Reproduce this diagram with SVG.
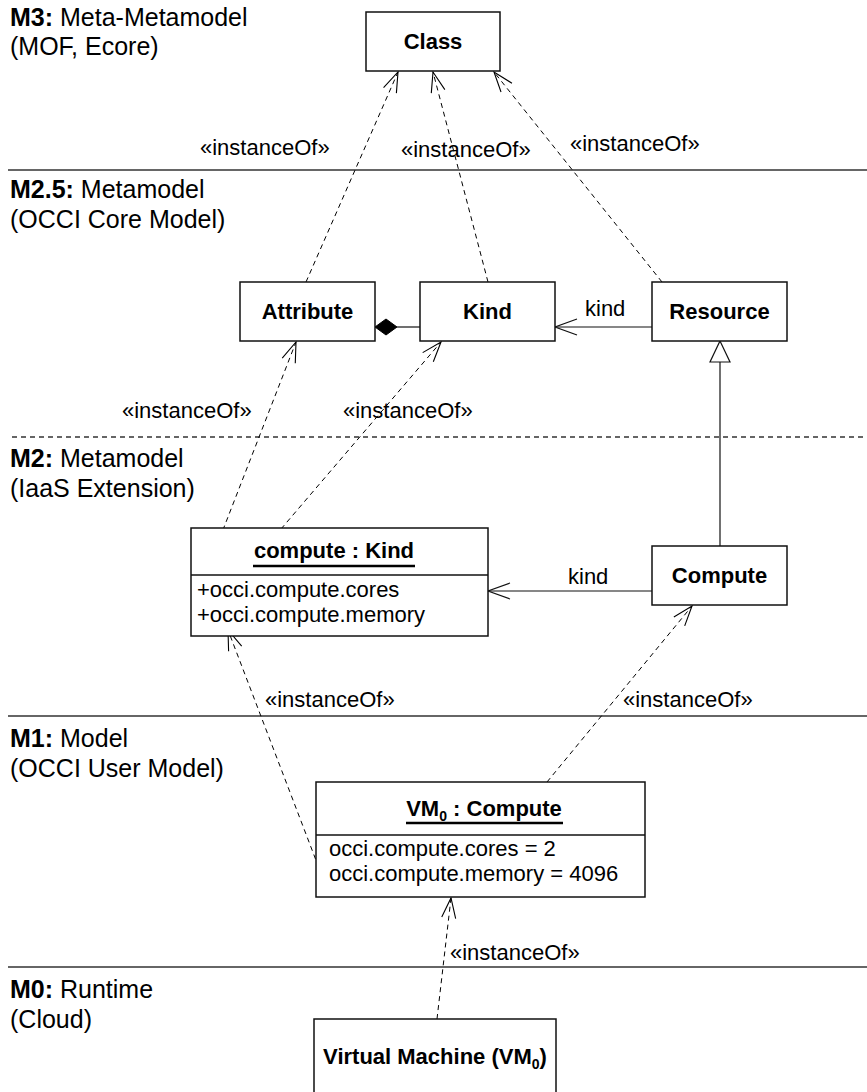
<svg xmlns="http://www.w3.org/2000/svg" width="867" height="1092" viewBox="0 0 867 1092">
  <style>
    text { font-family: "Liberation Sans", Arial, Helvetica, sans-serif; font-size: 22px; fill: #000; }
    .b { font-weight: bold; }
    .cap { font-size: 25px; }
    .box { fill: #fff; stroke: #111; stroke-width: 1.5; }
    .sep { stroke: #333; stroke-width: 1.3; fill: none; }
    .sepd { stroke: #333; stroke-width: 1.3; fill: none; stroke-dasharray: 5 4; }
    .inst { stroke: #000; stroke-width: 1; fill: none; stroke-dasharray: 5 4; marker-end: url(#open); }
    .assoc { stroke: #111; stroke-width: 1.2; fill: none; marker-end: url(#openBig); }
    .ul { stroke: #000; stroke-width: 2.6; }
  </style>
  <defs>
    <marker id="open" viewBox="0 0 24 18" refX="22" refY="9" markerWidth="24" markerHeight="18" orient="auto" markerUnits="userSpaceOnUse">
      <path d="M2,2 L22,9 L2,16" fill="none" stroke="#000" stroke-width="1.1" stroke-dasharray="none"/>
    </marker>
    <marker id="openBig" viewBox="0 0 26 20" refX="24" refY="10" markerWidth="26" markerHeight="20" orient="auto" markerUnits="userSpaceOnUse">
      <path d="M2,2 L24,10 L2,18" fill="none" stroke="#111" stroke-width="1.2"/>
    </marker>
  </defs>

  <!-- layer separators -->
  <g id="layers">
    <line class="sep" x1="8" y1="170" x2="867" y2="170"/>
    <line class="sepd" x1="12" y1="437" x2="867" y2="437"/>
    <line class="sep" x1="8" y1="716" x2="867" y2="716"/>
    <line class="sep" x1="8" y1="967" x2="867" y2="967"/>
  </g>

  <!-- layer captions -->
  <g id="captions">
    <text class="cap" x="10" y="26"><tspan class="b">M3:</tspan> Meta-Metamodel</text>
    <text class="cap" x="10" y="55">(MOF, Ecore)</text>
    <text class="cap" x="10" y="198"><tspan class="b">M2.5:</tspan> Metamodel</text>
    <text class="cap" x="10" y="228">(OCCI Core Model)</text>
    <text class="cap" x="10" y="467"><tspan class="b">M2:</tspan> Metamodel</text>
    <text class="cap" x="10" y="497">(IaaS Extension)</text>
    <text class="cap" x="10" y="747"><tspan class="b">M1:</tspan> Model</text>
    <text class="cap" x="10" y="777">(OCCI User Model)</text>
    <text class="cap" x="10" y="998"><tspan class="b">M0:</tspan> Runtime</text>
    <text class="cap" x="10" y="1028">(Cloud)</text>
  </g>

  <!-- connectors -->
  <g id="connectors">
    <path class="inst" d="M306,282 L398,72"/>
    <path class="inst" d="M488,282 L433,72"/>
    <path class="inst" d="M662,282 L494,72"/>
    <path class="inst" d="M200,589 L296,342"/>
    <path class="inst" d="M281,529 L441,342"/>
    <path class="inst" d="M322,876 L228,630"/>
    <path class="inst" d="M547,782 L692,606"/>
    <path class="inst" d="M437,1019 L451,898"/>

    <!-- composition Kind -> Attribute -->
    <line x1="397" y1="327" x2="420" y2="327" stroke="#111" stroke-width="1.2"/>
    <path d="M375,327 L386,319 L397,327 L386,335 Z" fill="#000" stroke="#000" stroke-width="1"/>

    <!-- kind associations -->
    <path class="assoc" d="M652,327 L555,327"/>
    <path class="assoc" d="M652,591 L488,591"/>

    <!-- generalization Compute -> Resource -->
    <line x1="720" y1="546" x2="720" y2="362" stroke="#111" stroke-width="1.2"/>
    <path d="M720,341 L730,362 L710,362 Z" fill="#fff" stroke="#111" stroke-width="1.2"/>

    <!-- connector labels -->
    <text x="200" y="155">«instanceOf»</text>
    <text x="401" y="157">«instanceOf»</text>
    <text x="570" y="151">«instanceOf»</text>
    <text x="585" y="316">kind</text>
    <text x="122" y="418">«instanceOf»</text>
    <text x="343" y="418">«instanceOf»</text>
    <text x="568" y="584">kind</text>
    <text x="265" y="707">«instanceOf»</text>
    <text x="623" y="707">«instanceOf»</text>
    <text x="450" y="960">«instanceOf»</text>
  </g>

  <!-- M3 -->
  <g id="class">
    <rect class="box" x="366" y="12" width="134" height="59"/>
    <text class="b" x="433" y="49" text-anchor="middle">Class</text>
  </g>

  <!-- M2.5 -->
  <g id="attribute">
    <rect class="box" x="240" y="282" width="135" height="59"/>
    <text class="b" x="307.5" y="319" text-anchor="middle">Attribute</text>
  </g>
  <g id="kind">
    <rect class="box" x="420" y="282" width="135" height="59"/>
    <text class="b" x="487.5" y="319" text-anchor="middle">Kind</text>
  </g>
  <g id="resource">
    <rect class="box" x="652" y="282" width="135" height="59"/>
    <text class="b" x="719.5" y="319" text-anchor="middle">Resource</text>
  </g>

  <!-- M2 -->
  <g id="compute-kind">
    <rect class="box" x="191" y="528" width="297" height="108"/>
    <line x1="191" y1="575" x2="488" y2="575" stroke="#111" stroke-width="1.5"/>
    <text class="b" x="334" y="558" text-anchor="middle">compute : Kind</text>
    <line class="ul" x1="253" y1="566" x2="415" y2="566"/>
    <text x="197" y="597">+occi.compute.cores</text>
    <text x="197" y="622">+occi.compute.memory</text>
  </g>
  <g id="compute">
    <rect class="box" x="652" y="546" width="135" height="59"/>
    <text class="b" x="719.5" y="583" text-anchor="middle">Compute</text>
  </g>

  <!-- M1 -->
  <g id="vm0">
    <rect class="box" x="316" y="782" width="329" height="115"/>
    <line x1="316" y1="835" x2="645" y2="835" stroke="#111" stroke-width="1.5"/>
    <text class="b" x="484" y="816" text-anchor="middle">VM<tspan font-size="14" dy="5">0</tspan><tspan dy="-5"> : Compute</tspan></text>
    <line class="ul" x1="406" y1="823" x2="563" y2="823"/>
    <text x="329" y="856">occi.compute.cores = 2</text>
    <text x="329" y="881">occi.compute.memory = 4096</text>
  </g>

  <!-- M0 -->
  <g id="virtual-machine">
    <rect class="box" x="314" y="1019" width="242" height="90"/>
    <text class="b" x="435" y="1064" text-anchor="middle">Virtual Machine (VM<tspan font-size="14" dy="5">0</tspan><tspan dy="-5">)</tspan></text>
  </g>
</svg>
